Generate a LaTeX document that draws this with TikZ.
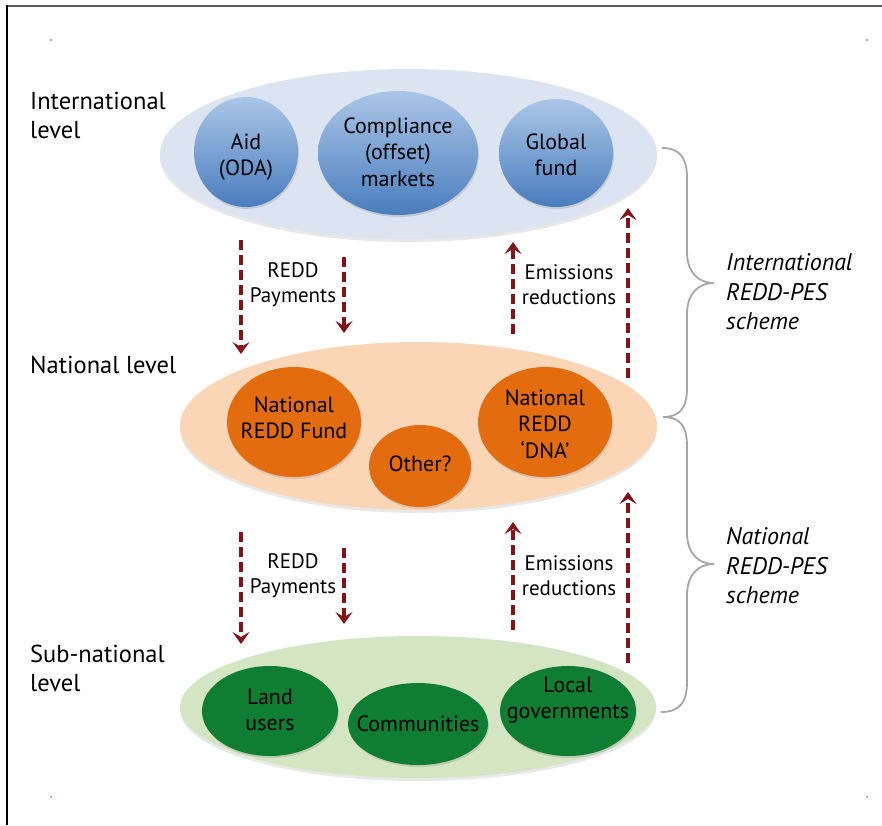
\documentclass[tikz,border=0pt]{standalone}
\usepackage{fontspec}
\setmainfont{PT Sans}
\usetikzlibrary{shapes.geometric,arrows.meta,shadows}
\definecolor{intbg}{RGB}{220,228,241}
\definecolor{natbg}{RGB}{251,214,182}
\definecolor{subbg}{RGB}{212,229,196}
\definecolor{bluetop}{RGB}{170,198,231}
\definecolor{bluebot}{RGB}{74,125,189}
\definecolor{orangefill}{RGB}{227,108,14}
\definecolor{greenfill}{RGB}{16,126,50}
\definecolor{arrowred}{RGB}{128,20,26}
\definecolor{bracegray}{RGB}{166,166,166}
\tikzset{
  layer/.style={ellipse, inner sep=0pt, draw=none, drop shadow={opacity=0.18, shadow xshift=0pt, shadow yshift=-3pt}},
  blob/.style={ellipse, inner sep=0pt, draw=none,
     drop shadow={opacity=0.25, shadow xshift=1pt, shadow yshift=-2pt}},
  bluebl/.style={blob, top color=bluetop, bottom color=bluebot},
  orangebl/.style={blob, fill=orangefill},
  greenbl/.style={blob, fill=greenfill},
  blobtext/.style={align=center, inner sep=0pt, font=\fontsize{22}{26.5}\selectfont},
  levellabel/.style={anchor=west, align=left, font=\fontsize{24.5}{29}\selectfont, inner sep=0pt},
  flowlabel/.style={align=center, font=\fontsize{21}{25}\selectfont, inner sep=0pt},
  schemelabel/.style={anchor=west, align=left, font=\itshape\fontsize{24}{29.5}\selectfont, inner sep=0pt},
  flow/.style={draw=arrowred, line width=3.3pt, dash pattern=on 10pt off 5pt,
     -{Stealth[length=12pt,width=17pt,inset=5pt]}},
  bracestyle/.style={draw=bracegray, line width=1.8pt},
  tick/.style={fill=red!45, draw=none}
}
\begin{document}
\begin{tikzpicture}[x=1pt,y=-1pt]
\useasboundingbox (0,0) rectangle (882,825);
\fill[white] (0,0) rectangle (882,825);
% frame
\draw[line width=2pt, black!65] (6,5.5) -- (882,5.5);
\draw[line width=2pt, black] (6.5,5) -- (6.5,825);
\fill[tick] (49.5,38.5) rectangle (51.5,40.5);
\fill[tick] (865.5,38.5) rectangle (867.5,40.5);
\fill[tick] (50,796) rectangle (52,798);
\fill[tick] (865.5,796) rectangle (867.5,798);

% layers
\node[layer, fill=intbg, minimum width=497pt, minimum height=170pt] (intl) at (408.5,154) {};
\node[layer, fill=natbg, minimum width=477pt, minimum height=168pt] (natl) at (418.5,426) {};
\node[layer, fill=subbg, minimum width=476pt, minimum height=142pt] (subn) at (418,707) {};

% international
\node[bluebl, minimum width=104pt, minimum height=110pt] (aid) at (246,152) {};
\node[bluebl, minimum width=160pt, minimum height=124pt] (comp) at (398,153) {};
\node[bluebl, minimum width=114pt, minimum height=108pt] (glob) at (556,153) {};
\node[blobtext] (aidt) at (246,157) {Aid\\(ODA)};
\node[blobtext] (compt) at (398,152) {Compliance\\(offset)\\markets};
\node[blobtext] (globt) at (556,155) {Global\\fund};

% national
\node[orangebl, minimum width=134pt, minimum height=110pt] (nrf) at (294,422) {};
\node[orangebl, minimum width=102pt, minimum height=82pt] (other) at (420,466) {};
\node[orangebl, minimum width=134pt, minimum height=110pt] (dna) at (545,422) {};
\node[blobtext] (nrft) at (294,418) {National\\REDD Fund};
\node[blobtext] (othert) at (420,464) {Other?};
\node[blobtext] (dnat) at (545,424) {National\\REDD\\‘DNA’};

% sub-national
\node[greenbl, minimum width=136pt, minimum height=90pt] (land) at (270,711) {};
\node[greenbl, minimum width=140pt, minimum height=82pt] (comm) at (418,724) {};
\node[greenbl, minimum width=136pt, minimum height=90pt] (local) at (568,711) {};
\node[blobtext] (landt) at (270,710) {Land\\users};
\node[blobtext] (commt) at (418,724) {Communities};
\node[blobtext] (localt) at (568,700) {Local\\governments};

% level labels
\node[levellabel] (lint) at (30,115) {International\\level};
\node[levellabel] (lnat) at (30,365) {National level};
\node[levellabel] (lsub) at (30,668) {Sub-national\\level};

% arrows upper
\coordinate (a1s) at (241,240); \coordinate (a1e) at (241,354);
\coordinate (a2s) at (344,257); \coordinate (a2e) at (344,333);
\coordinate (a3s) at (513,334); \coordinate (a3e) at (513,242);
\coordinate (a4s) at (628,378); \coordinate (a4e) at (628,208);
\draw[flow] (a1s) -- (a1e);
\draw[flow] (a2s) -- (a2e);
\draw[flow] (a3s) -- (a3e);
\draw[flow] (a4s) -- (a4e);
\node[flowlabel] (pay1) at (293,285) {REDD\\Payments};
\node[flowlabel] (em1) at (569,285) {Emissions\\reductions};

% arrows lower
\coordinate (b1s) at (241,532); \coordinate (b1e) at (241,644);
\coordinate (b2s) at (344,548); \coordinate (b2e) at (344,624);
\coordinate (b3s) at (513,630); \coordinate (b3e) at (513,522);
\coordinate (b4s) at (628,663); \coordinate (b4e) at (628,492);
\draw[flow] (b1s) -- (b1e);
\draw[flow] (b2s) -- (b2e);
\draw[flow] (b3s) -- (b3e);
\draw[flow] (b4s) -- (b4e);
\node[flowlabel] (pay2) at (293,575.5) {REDD\\Payments};
\node[flowlabel] (em2) at (569,575.5) {Emissions\\reductions};

% braces
\coordinate (br1top) at (662,148);
\coordinate (brmid) at (663,417);
\coordinate (br2bot) at (661,712);
\coordinate (tip1) at (714,283);
\coordinate (tip2) at (714,564);
\draw[bracestyle] (br1top) .. controls (680,148) and (687,158) .. (687,178)
  -- (687,252) .. controls (687,272) and (698,283) .. (tip1)
  .. controls (698,283) and (687,294) .. (687,314)
  -- (687,388) .. controls (687,408) and (680,417) .. (brmid);
\draw[bracestyle] (brmid) .. controls (680,417) and (687,426) .. (687,446)
  -- (687,533) .. controls (687,553) and (698,564) .. (tip2)
  .. controls (698,564) and (687,575) .. (687,595)
  -- (687,682) .. controls (687,702) and (680,712) .. (br2bot);
\node[schemelabel] (s1) at (726,292) {International\\REDD-PES\\scheme};
\node[schemelabel] (s2) at (726,566) {National\\REDD-PES\\scheme};
\end{tikzpicture}
\end{document}
